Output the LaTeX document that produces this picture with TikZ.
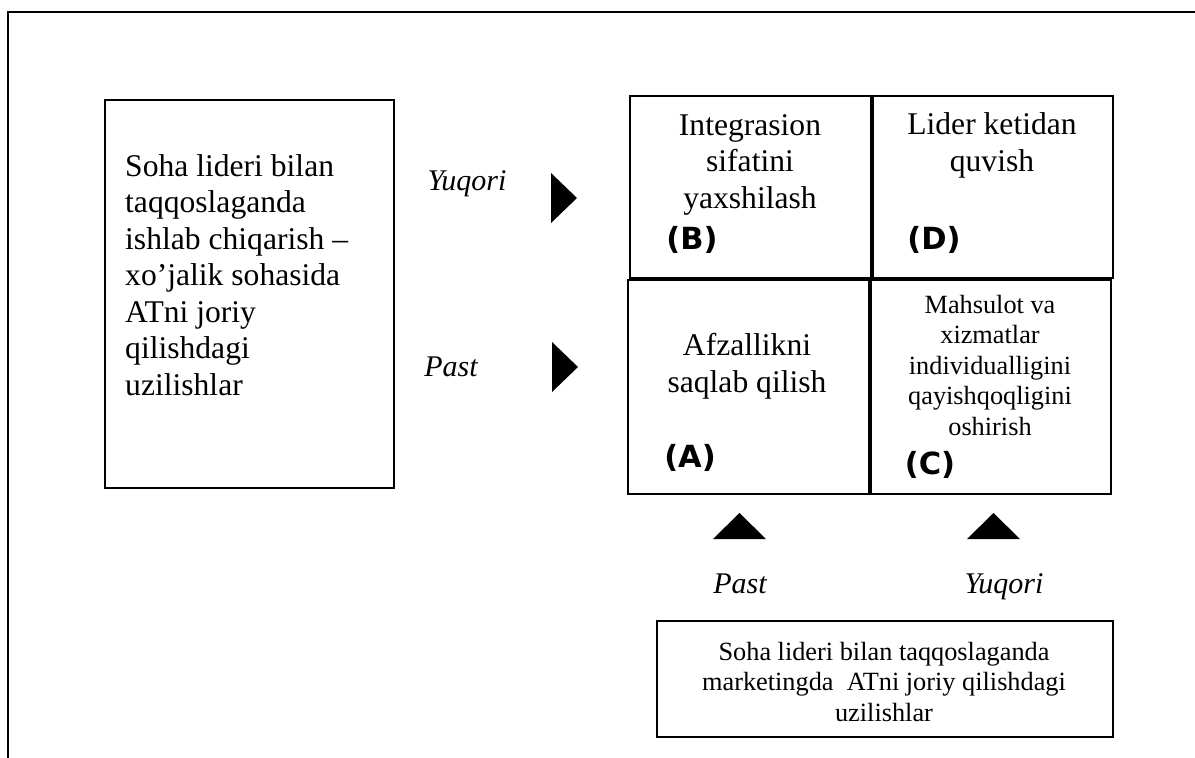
\documentclass[tikz,border=0pt]{standalone}
\usepackage{fontspec}
\setmainfont{Liberation Serif}
\newfontfamily\tagfont{DejaVu Sans}
\begin{document}
\begin{tikzpicture}[x=1pt,y=-1pt,
  box/.style={draw, line width=2.3pt, inner sep=0pt, anchor=north west},
  big/.style={font=\fontsize{31.6}{36.5}\selectfont, inner sep=0pt},
  small/.style={font=\fontsize{26.3}{30.5}\selectfont, inner sep=0pt, align=center},
  axis/.style={font=\fontsize{30}{34}\selectfont\itshape, inner sep=0pt, anchor=base},
  tag/.style={font=\fontsize{30.5}{34}\tagfont\bfseries, inner sep=0pt},
  marker/.style={fill=black}]
\useasboundingbox (0,0) rectangle (1195,758);

% page frame
\draw[line width=2.5pt] (8,758) -- (8,12) -- (1195,12);

% left block
\node[box, minimum width=289pt, minimum height=388pt] (lead) at (104,99) {};
\node[big, align=left, anchor=west] (leadtxt) at (125,275)
  {Soha lideri bilan\\taqqoslaganda\\ishlab chiqarish –\\xo’jalik sohasida\\ATni joriy\\qilishdagi\\uzilishlar};

% quadrants
\node[box, minimum width=241pt, minimum height=182pt] (qB) at (629,95) {};
\node[box, minimum width=240pt, minimum height=182pt] (qD) at (872,95) {};
\node[box, minimum width=241pt, minimum height=214pt] (qA) at (627,279) {};
\node[box, minimum width=240pt, minimum height=214pt] (qC) at (870,279) {};

\node[big, align=center] (tB) at (750,164.5) {Integrasion\\sifatini\\yaxshilash};
\node[big, align=center] (tD) at (992,145.5) {Lider ketidan\\quvish};
\node[big, align=center] (tA) at (747,366) {Afzallikni\\saqlab qilish};
\node[small] (tC) at (990,365) {Mahsulot va\\xizmatlar\\individualligini\\qayishqoqligini\\oshirish};

\node[tag] (lB) at (692,240) {(B)};
\node[tag] (lD) at (934,240) {(D)};
\node[tag] (lA) at (690,458) {(A)};
\node[tag] (lC) at (930,465) {(C)};

% bottom block
\node[box, minimum width=456pt, minimum height=116pt] (mkt) at (656,620) {};
\node[small] (mkttxt) at (884,681.5) {Soha lideri bilan taqqoslaganda\\marketingda~ ATni joriy qilishdagi\\uzilishlar};

% axis labels
\node[axis] (yHi) at (467,190) {Yuqori};
\node[axis] (yLo) at (451,376) {Past};
\node[axis] (xLo) at (740,593) {Past};
\node[axis] (xHi) at (1004,593) {Yuqori};

% axis markers
\fill[marker] (551,173) -- (577,198) -- (551,223) -- cycle;
\fill[marker] (552,342) -- (578,367) -- (552,392) -- cycle;
\fill[marker] (713,539) -- (739.5,513) -- (766,539) -- cycle;
\fill[marker] (967,539) -- (993.5,513) -- (1020,539) -- cycle;
\end{tikzpicture}
\end{document}
